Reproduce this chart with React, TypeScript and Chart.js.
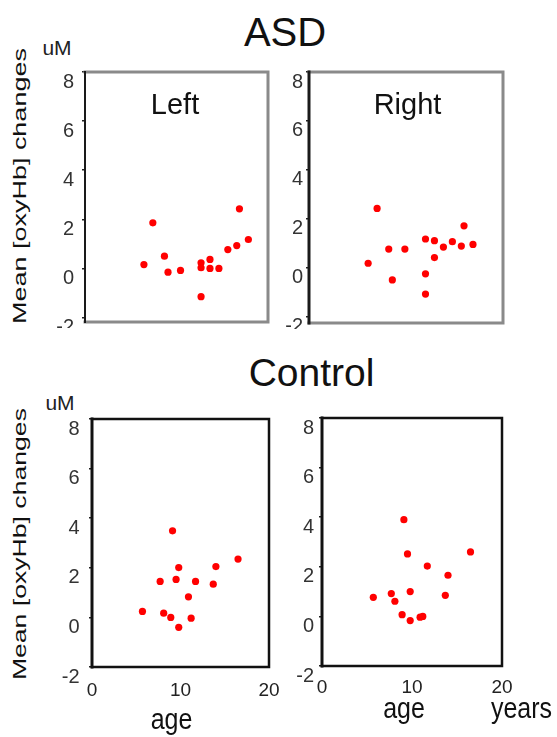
import React, { useEffect, useRef } from 'react';
import { Chart, registerables } from 'chart.js';

Chart.register(...registerables);

// ---- data ----
const asdAge = [6.6, 7.6, 8.9, 9.3, 10.7, 13.0, 13.0, 13.0, 14.0, 14.0, 15.0, 16.0, 17.0, 17.3, 18.3];
const asdLeft = [0.16, 1.86, 0.5, -0.15, -0.08, 0.23, 0.03, -1.15, 0.37, 0.0, 0.0, 0.77, 0.93, 2.43, 1.18];
const asdRight = [0.19, 2.43, 0.77, -0.49, 0.77, 1.18, -0.24, -1.07, 1.11, 0.42, 0.85, 1.07, 0.89, 1.72, 0.96];

const controlAge = [5.7, 7.7, 8.1, 8.9, 9.1, 9.5, 9.8, 9.8, 10.9, 11.2, 11.7, 13.7, 14.0, 16.5];
const controlLeft = [0.24, 1.45, 0.17, 0.0, 3.49, 1.53, 2.01, -0.4, 0.83, -0.03, 1.45, 1.34, 2.05, 2.35];
const controlRight = [0.77, 0.92, 0.61, 0.07, 3.9, 2.52, 1.0, -0.17, -0.03, 0.0, 2.03, 0.85, 1.66, 2.6];

const yTickValues = [-2, 0, 2, 4, 6, 8];
const xTickValues = [0, 10, 20];

const FONT = '"Liberation Sans", Arial, Helvetica, sans-serif';

type Box = { l: number; t: number; r: number; b: number };
type PanelSpec = {
  ages: number[];
  values: number[];
  box: Box;
  xMax: number;
  yMin: number;
  showX: boolean;
  xPad: number;
  yPad: number;
  edge: string;
  axis: string;
  edgeW: number;
  axisW: number;
};

const boxPlugin = {
  id: 'panelBox',
  afterDraw(chart: any, _args: any, opts: any) {
    const { ctx, chartArea } = chart;
    const { left, right, top, bottom } = chartArea;
    ctx.save();
    ctx.lineCap = 'square';
    ctx.strokeStyle = opts.edge;
    ctx.lineWidth = opts.edgeW;
    ctx.beginPath();
    ctx.moveTo(left, top);
    ctx.lineTo(right, top);
    ctx.lineTo(right, bottom);
    ctx.lineTo(left, bottom);
    ctx.stroke();
    ctx.strokeStyle = opts.axis;
    ctx.lineWidth = opts.axisW;
    ctx.beginPath();
    ctx.moveTo(left, top);
    ctx.lineTo(left, bottom);
    ctx.stroke();
    ctx.restore();
  },
};

const WY = 44;
const PAD = 5;
const PADR = 16;

function zeroPad(s: any) {
  s.paddingTop = 0;
  s.paddingBottom = 0;
  s.paddingLeft = 0;
  s.paddingRight = 0;
}

function ScatterPanel({ p }: { p: PanelSpec }) {
  const ref = useRef<HTMLCanvasElement>(null);
  const HX = p.showX ? 40 : 6;
  const w = WY + (p.box.r - p.box.l) + PADR;
  const h = PAD + (p.box.b - p.box.t) + HX;

  useEffect(() => {
    const chart = new Chart(ref.current as HTMLCanvasElement, {
      type: 'scatter',
      data: {
        datasets: [
          {
            data: p.ages.map((a, i) => ({ x: a, y: p.values[i] })),
            backgroundColor: '#ff0000',
            borderColor: '#ff0000',
            pointRadius: 3.6,
            pointBorderWidth: 0,
            pointHoverRadius: 3.6,
          },
        ],
      },
      options: {
        animation: false,
        responsive: false,
        maintainAspectRatio: false,
        events: [],
        layout: { padding: { top: PAD, right: PADR, left: 0, bottom: 0 }, autoPadding: false },
        plugins: {
          legend: { display: false },
          tooltip: { enabled: false },
          panelBox: { edge: p.edge, axis: p.axis, edgeW: p.edgeW, axisW: p.axisW },
        } as any,
        scales: {
          x: {
            type: 'linear',
            min: 0,
            max: p.xMax,
            afterBuildTicks: (s: any) => {
              s.ticks = xTickValues.map((v) => ({ value: v }));
            },
            afterFit: (s: any) => {
              s.height = HX;
              zeroPad(s);
            },
            border: { display: false },
            grid: { display: true, drawOnChartArea: false, drawTicks: false },
            ticks: {
              display: p.showX,
              padding: p.xPad,
              maxRotation: 0,
              autoSkip: false,
              color: '#222',
              font: { family: FONT, size: 19 },
            },
          },
          y: {
            type: 'linear',
            min: p.yMin,
            max: 8,
            afterBuildTicks: (s: any) => {
              s.ticks = yTickValues.map((v) => ({ value: v }));
            },
            afterFit: (s: any) => {
              s.width = WY;
              zeroPad(s);
            },
            border: { display: false },
            grid: {
              display: true,
              drawOnChartArea: false,
              drawTicks: true,
              tickLength: 3,
              color: '#222',
              lineWidth: 1.5,
            },
            ticks: {
              padding: p.yPad,
              labelOffset: 10,
              autoSkip: false,
              color: '#333',
              font: { family: FONT, size: 20 },
            },
          },
        },
      } as any,
      plugins: [boxPlugin],
    });
    return () => chart.destroy();
  }, []);

  return (
    <canvas
      ref={ref}
      width={w}
      height={h}
      style={{ position: 'absolute', left: p.box.l - WY, top: p.box.t - PAD, width: w, height: h }}
    />
  );
}

const panels: PanelSpec[] = [
  {
    ages: asdAge, values: asdLeft, box: { l: 85, t: 72, r: 268, b: 322 }, xMax: 20.5, yMin: -2.18,
    showX: false, xPad: 0, yPad: 8, edge: '#8a8a8a', axis: '#1a1a1a', edgeW: 3, axisW: 2,
  },
  {
    ages: asdAge, values: asdRight, box: { l: 309, t: 72, r: 503, b: 323 }, xMax: 21.65, yMin: -2.25,
    showX: false, xPad: 0, yPad: 3, edge: '#8a8a8a', axis: '#1a1a1a', edgeW: 3, axisW: 3,
  },
  {
    ages: controlAge, values: controlLeft, box: { l: 92, t: 419, r: 269, b: 667 }, xMax: 20, yMin: -2,
    showX: true, xPad: 12.5, yPad: 9.5, edge: '#111', axis: '#111', edgeW: 2.5, axisW: 3,
  },
  {
    ages: controlAge, values: controlRight, box: { l: 322, t: 418, r: 502, b: 666 }, xMax: 20, yMin: -2,
    showX: true, xPad: 10.5, yPad: 5, edge: '#111', axis: '#111', edgeW: 2.5, axisW: 3,
  },
];

// text placed by baseline
function Txt({ x, y, size, children, sy = 1, color = '#111' }: any) {
  const asc = 0.8465 * size;
  return (
    <div style={{ position: 'absolute', left: x, top: y, width: 0, height: 0 }}>
      <span
        style={{
          position: 'absolute',
          left: 0,
          top: -asc,
          fontFamily: FONT,
          fontSize: size,
          lineHeight: 1,
          whiteSpace: 'nowrap',
          color,
          transformOrigin: `50% ${asc}px`,
          transform: `translateX(-50%) scaleY(${sy})`,
        }}
      >
        {children}
      </span>
    </div>
  );
}

function VTxt({ x, y, size, children, k = 1 }: any) {
  const asc = 0.8465 * size;
  return (
    <div style={{ position: 'absolute', left: x, top: y, width: 0, height: 0 }}>
      <span
        style={{
          position: 'absolute',
          left: 0,
          top: -asc,
          fontFamily: FONT,
          fontSize: size,
          lineHeight: 1,
          whiteSpace: 'nowrap',
          color: '#111',
          transformOrigin: `0px ${asc}px`,
          transform: `rotate(-90deg) scaleX(${k}) translateX(-50%)`,
        }}
      >
        {children}
      </span>
    </div>
  );
}

export default function App() {
  return (
    <div
      style={{
        position: 'fixed',
        left: 0,
        top: 0,
        width: 557,
        height: 737,
        background: '#fff',
        overflow: 'hidden',
      }}
    >
      {panels.map((p, i) => (
        <ScatterPanel key={i} p={p} />
      ))}
      <Txt x={285} y={46} size={40}>ASD</Txt>
      <Txt x={311.5} y={386} size={39}>Control</Txt>
      <Txt x={175} y={115} size={29}>Left</Txt>
      <Txt x={407.5} y={115} size={29}>Right</Txt>
      <Txt x={57} y={55} size={21} color="#222">uM</Txt>
      <Txt x={60} y={410} size={21} color="#222">uM</Txt>
      <VTxt x={26} y={186.5} size={19} k={1.42}>Mean [oxyHb] changes</VTxt>
      <VTxt x={26} y={544} size={19} k={1.4}>Mean [oxyHb] changes</VTxt>
      <Txt x={171.5} y={729} size={25} sy={1.15}>age</Txt>
      <Txt x={404} y={718} size={25} sy={1.15}>age</Txt>
      <Txt x={521.5} y={718} size={25} sy={1.15}>years</Txt>
    </div>
  );
}
